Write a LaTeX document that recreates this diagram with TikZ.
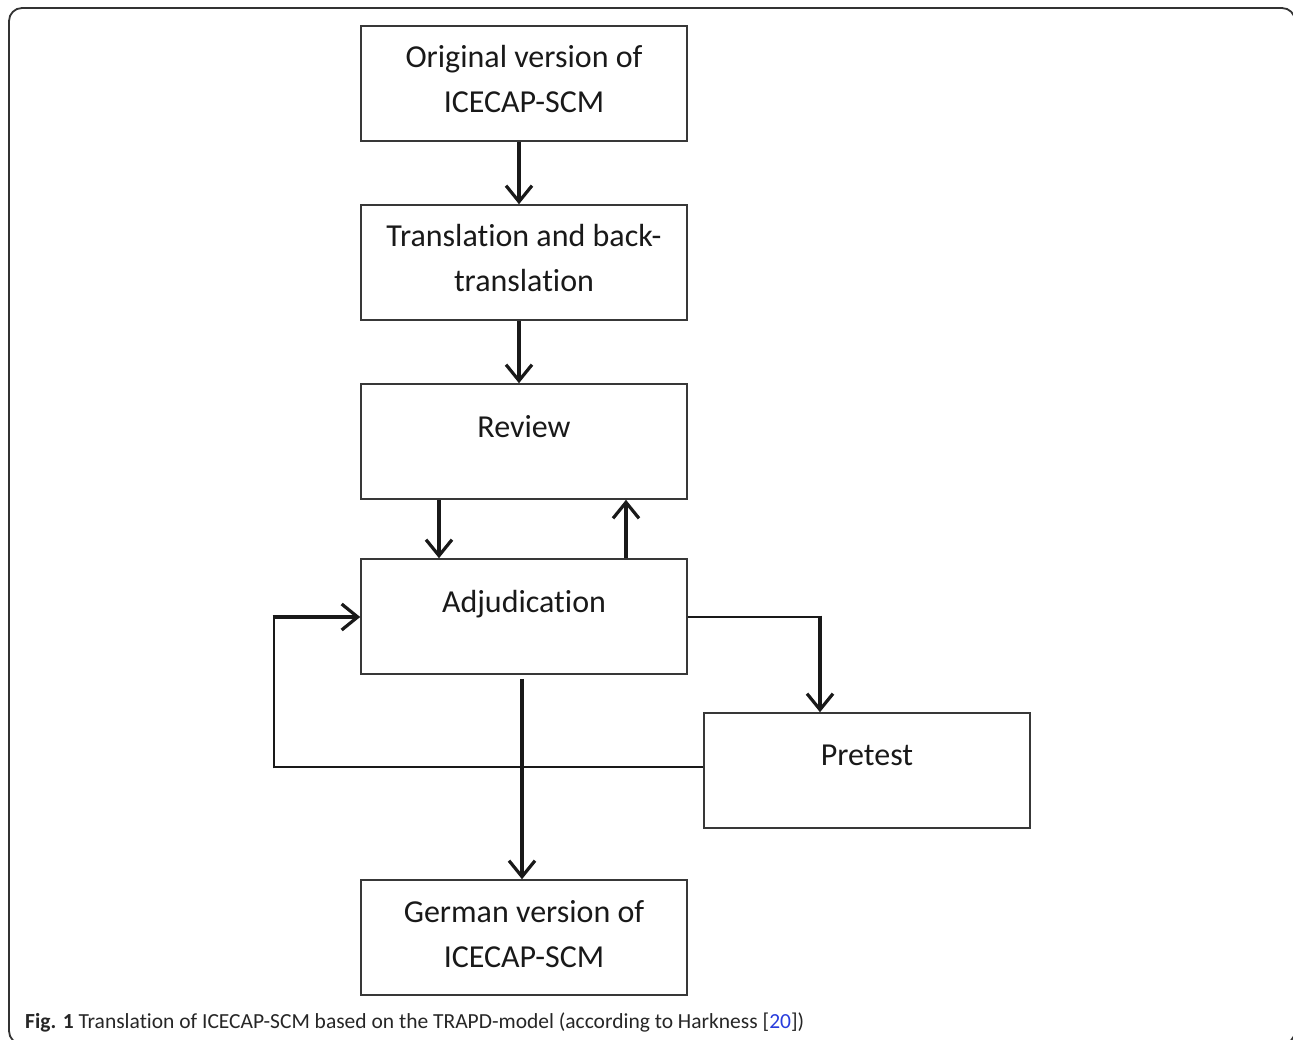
\documentclass[tikz,border=0pt]{standalone}
\usepackage{fontspec}
\setmainfont{Carlito}[Ligatures=CommonOff]
\usetikzlibrary{arrows.meta}
\definecolor{linkblue}{RGB}{40,60,220}
\begin{document}
\begin{tikzpicture}[x=1pt,y=-1pt,
  box/.style={draw=black!78,line width=1.6pt,minimum width=326pt,minimum height=115pt,inner sep=0pt},
  txt/.style={anchor=base,inner sep=0pt,font=\fontsize{32}{45}\selectfont,text=black!90},
  conn/.style={draw=black!90,line width=3.2pt},
  arr/.style={conn,-{Straight Barb[length=16pt,width=26pt]}},
  fbline/.style={draw=black!90,line width=2.8pt}]
\useasboundingbox (0,0) rectangle (1293,1040);
\clip (0,0) rectangle (1293,1040);
\draw[black!80,line width=1.8pt,rounded corners=13pt] (9,8) rectangle (1295,1044);
% boxes
\node[box] (b1) at (524,83.5) {};
\node[box] (b2) at (524,262.5) {};
\node[box] (b3) at (524,441.5) {};
\node[box] (b4) at (524,616.5) {};
\node[box] (b5) at (867,770.5) {};
\node[box] (b6) at (524,937.5) {};
% texts
\node[txt] (t1a) at (524,68) {Original version of};
\node[txt] (t1b) at (524,113) {ICECAP-SCM};
\node[txt] (t2a) at (524,247) {Translation and back-};
\node[txt] (t2b) at (524,292) {translation};
\node[txt] (t3) at (524,437) {Review};
\node[txt] (t4) at (524,612) {Adjudication};
\node[txt] (t5) at (867,765) {Pretest};
\node[txt] (t6a) at (524,922) {German version of};
\node[txt] (t6b) at (524,967) {ICECAP-SCM};
% connectors
\draw[arr] ([xshift=-5pt]b1.south) -- ([xshift=-5pt]b2.north);
\draw[arr] ([xshift=-5pt]b2.south) -- ([xshift=-5pt]b3.north);
\draw[arr] ([xshift=-85pt]b3.south) -- ([xshift=-85pt]b4.north);
\draw[arr] ([xshift=102pt]b4.north) -- ([xshift=102pt]b3.south);
\draw[arr] ([xshift=-2pt,yshift=-4pt]b4.south) -- ([xshift=-2pt]b6.north);
\coordinate (c1) at (820,617);
\coordinate (p1) at (b4.east |- c1);
\draw[fbline] (p1) -- (c1);
\draw[arr] ([yshift=1.4pt]c1) -- (c1 |- b5.north);
\coordinate (c2) at (274,767);
\coordinate (c3) at (274,617);
\coordinate (p2) at (b5.west |- c2);
\draw[fbline] (p2) -- ([xshift=-1.4pt]c2);
\draw[fbline] ([yshift=-1.4pt]c2) -- (c3);
\draw[arr] ([xshift=-1.4pt]c3) -- (b4.west |- c3);
% caption
\node[anchor=base west,inner sep=0pt,font=\fontsize{21.5}{24}\selectfont,text=black!85] (cap) at (25,1028)
  {\textbf{Fig. 1} Translation of ICECAP-SCM based on the TRAPD-model (according to Harkness [\textcolor{linkblue}{20}])};
\end{tikzpicture}
\end{document}
